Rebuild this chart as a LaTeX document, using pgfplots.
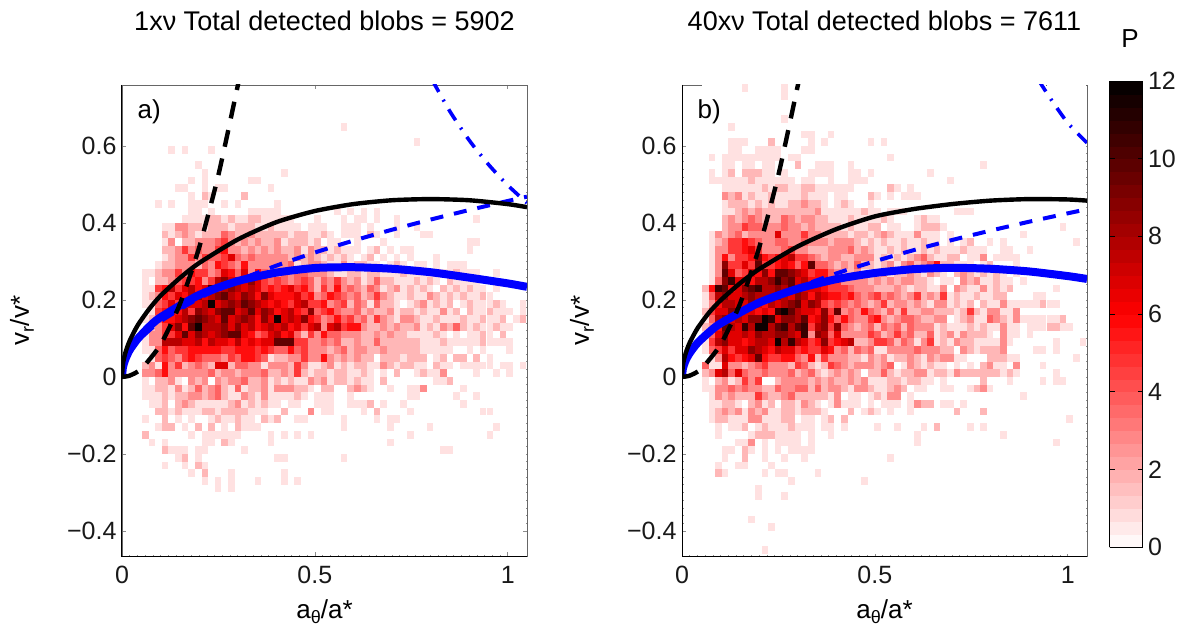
\documentclass[border=0pt]{standalone}
\usepackage{fontspec}
\setmainfont{Liberation Sans}
\usepackage{pgfplots}
\usepackage{pgfplotstable}
\pgfplotsset{compat=1.18}
\pgfdeclareplotmark{cell}{\pgfpathrectangle{\pgfqpoint{-3.3pt}{-3.84pt}}{\pgfqpoint{6.6pt}{7.68pt}}\pgfusepathqfill}
\definecolor{lblue}{rgb}{0,0,1}
\newcommand{\lbl}{\fontsize{25}{30}\selectfont}
\newcommand{\lab}{\fontsize{26}{30}\selectfont}
\newcommand{\ttl}{\fontsize{27}{32}\selectfont}
\newcommand{\sub}[1]{\raisebox{-0.35ex}{\fontsize{18}{18}\selectfont #1}}

% columns: k=0..57 (cell centre x = 0.0516+0.01718*(k+0.5)); rows top to bottom
\pgfplotstableread[header=false]{
0 0 0 0 0 0 0 0 0 0  0 0 0 0 0 0 0 0 0 0  0 0 0 0 0 0 0 0 0 0  1 0 0 0 0 0 0 0 0 0  0 0 0 0 0 0 0 0 0 0  0 0 0 0 0 0 0 0
0 0 0 0 0 0 0 0 0 0  0 0 0 0 0 0 0 0 0 0  0 0 0 0 0 0 0 0 0 0  0 0 0 0 0 0 0 0 0 0  0 0 0 0 0 0 0 0 0 0  0 0 0 0 0 0 0 0
0 0 0 0 0 0 0 0 0 0  0 0 0 0 0 0 0 0 0 0  0 0 0 0 0 0 0 0 0 0  0 0 0 0 0 0 0 0 0 0  0 1 0 0 0 0 0 0 0 0  0 0 0 0 0 0 0 0
0 0 0 0 1 0 1 0 0 0  1 0 0 0 0 0 0 0 0 0  0 0 0 0 0 0 0 0 0 0  0 0 0 0 0 0 0 0 0 0  0 0 0 0 0 0 0 0 0 0  0 0 0 0 0 0 0 0
0 0 0 0 0 0 0 0 0 0  0 0 0 0 0 0 0 0 0 0  0 0 0 0 0 0 0 0 0 0  0 0 0 0 0 0 0 0 0 0  0 0 0 0 0 0 0 0 0 0  0 0 0 0 0 0 0 0
0 0 0 0 0 0 0 0 1 0  0 0 0 0 0 0 0 0 0 0  0 0 0 0 0 0 0 0 0 0  0 0 0 0 0 0 0 0 0 0  0 0 0 0 0 0 0 0 0 0  0 0 0 0 0 0 0 0
0 0 0 0 0 0 0 0 0 1  0 0 0 0 0 0 0 0 0 0  0 1 0 0 0 0 0 0 0 0  0 0 0 0 0 0 0 0 0 0  0 0 0 0 0 0 0 0 0 0  0 0 0 0 0 0 0 0
0 0 0 0 0 0 0 1 0 1  0 0 0 0 0 0 1 1 0 0  0 0 0 0 0 0 0 0 0 0  0 0 0 0 0 0 0 0 0 0  0 0 0 0 0 0 0 0 0 0  0 0 0 0 0 0 0 0
0 0 0 0 0 1 1 0 0 1  0 1 1 0 0 0 0 0 0 1  0 0 0 0 0 0 0 0 0 0  0 0 0 0 0 0 0 0 0 0  0 0 0 0 0 0 0 0 0 0  0 0 0 0 0 0 0 0
0 0 0 0 0 0 0 1 0 2  1 0 0 0 0 2 0 0 0 0  0 0 0 0 0 0 0 0 0 0  0 0 0 0 0 0 0 0 0 0  0 0 0 0 0 0 0 0 0 0  0 0 0 0 0 0 0 0
0 0 1 0 1 0 0 1 1 1  0 0 1 0 1 0 0 0 0 0  1 0 0 0 0 0 0 0 0 0  0 0 0 0 0 0 0 0 0 0  0 0 0 0 0 0 0 0 0 0  0 0 0 0 0 0 0 0
0 0 0 0 0 0 0 1 1 0  1 0 0 0 0 0 1 1 1 1  1 0 0 0 0 0 0 0 0 1  0 1 0 1 0 1 0 0 0 0  0 0 0 0 0 0 0 0 0 0  0 0 0 0 0 0 0 0
0 0 0 0 0 0 1 1 1 1  2 2 1 2 1 1 2 2 1 1  1 1 1 0 0 0 1 0 0 0  1 0 1 1 0 1 0 0 1 0  0 0 0 0 0 0 0 0 0 0  1 0 0 0 0 0 0 0
0 0 0 1 1 3 3 2 2 1  2 2 2 1 2 2 2 1 1 2  1 1 1 1 0 1 1 1 0 0  1 1 1 0 1 0 0 0 1 0  0 1 0 0 0 0 0 0 0 0  0 0 0 0 0 0 0 0
0 0 0 2 1 2 3 2 1 2  2 2 4 3 2 2 3 2 2 2  2 2 1 2 2 1 1 2 1 0  1 1 1 0 2 1 0 0 1 0  0 0 1 1 0 0 0 0 0 0  0 0 0 0 0 0 0 0
0 0 0 1 3 0 2 2 3 3  3 4 5 3 2 3 2 3 2 2  3 1 2 2 2 1 2 0 1 1  0 0 1 0 0 0 1 0 0 0  0 0 0 0 0 0 0 0 0 1  1 0 0 0 0 0 0 0
0 0 0 2 2 3 5 3 4 3  3 5 6 3 3 2 3 2 3 2  3 2 2 3 1 3 2 2 1 2  1 1 1 0 1 2 0 1 0 1  1 0 0 0 0 0 0 0 0 1  0 0 0 0 0 0 0 0
0 0 0 1 2 3 3 5 3 5  4 4 5 7 4 3 4 3 3 3  3 3 2 3 2 3 2 1 2 1  2 1 0 1 2 0 1 0 1 0  1 0 0 0 1 0 0 0 0 0  0 0 0 0 0 0 0 0
0 0 1 2 2 3 3 3 2 4  3 6 5 4 3 6 3 3 3 3  3 3 4 1 2 3 3 2 1 1  3 1 2 2 1 1 0 1 2 1  0 1 1 0 1 0 1 1 1 0  0 0 0 0 0 0 0 0
1 1 2 3 3 5 3 6 5 5  3 4 7 6 4 7 3 6 4 3  3 4 3 4 4 3 3 3 2 1  1 2 2 1 2 2 1 1 1 2  1 1 1 1 2 1 1 2 1 1  1 0 0 1 0 0 0 0
1 0 2 2 3 4 5 5 6 3  5 8 9 7 8 7 9 7 5 4  5 4 3 4 5 4 2 4 3 5  3 2 3 1 2 4 2 2 1 1  1 2 1 2 1 0 2 1 1 1  1 0 0 0 0 0 0 0
1 1 5 6 8 5 7 8 6 7  11 7 8 9 8 7 8 7 5 6  5 6 7 5 6 4 2 5 3 6  3 4 3 2 4 3 1 2 3 1  2 1 2 1 0 2 1 2 1 2  1 1 0 1 0 0 0 0
1 2 3 6 5 7 6 8 9 7  8 9 10 8 7 9 8 6 9 7  6 6 6 7 5 6 3 4 6 5  4 3 4 2 3 5 3 2 1 1  2 1 1 3 2 1 2 1 2 1  1 2 1 0 0 0 0 0
1 1 4 5 7 5 6 7 7 8  12 7 8 9 8 10 9 8 7 6  7 6 5 7 8 5 5 6 3 4  5 2 4 3 1 4 2 2 1 0  1 2 3 1 2 1 2 0 1 2  1 1 1 2 1 0 0 1
0 1 5 6 7 6 8 5 9 8  7 9 10 10 7 8 10 7 9 8  6 7 8 6 5 9 4 5 6 4  3 3 4 2 3 2 2 3 1 2  2 1 2 1 1 3 1 2 0 2  1 1 2 1 1 1 0 1
1 2 4 6 6 7 8 9 10 9  8 7 10 7 8 9 8 6 9 7  12 7 8 7 9 6 5 3 4 6  4 5 3 4 2 5 3 2 1 3  3 2 1 1 2 1 1 1 2 1  1 2 1 1 2 0 1 2
0 2 3 5 7 9 6 10 12 8  8 8 9 7 9 7 8 6 7 8  7 8 6 7 5 7 8 3 7 8  5 6 6 3 2 2 3 2 3 2  2 3 1 2 1 3 2 4 2 1  2 1 1 2 1 1 0 0
1 3 3 5 5 7 10 7 9 8  7 8 9 10 10 7 6 4 5 7  8 6 7 4 2 5 3 6 4 4  3 3 3 2 2 3 2 3 2 2  1 1 1 1 2 1 0 1 0 1  1 2 1 0 2 0 0 0
1 3 3 8 8 8 7 7 8 6  8 7 7 6 8 6 7 6 7 7  10 10 10 5 5 3 3 4 3 4  2 2 3 2 2 4 2 2 2 2  2 2 1 1 1 2 1 1 1 1  1 2 1 1 1 1 0 0
1 1 4 6 4 5 5 6 6 6  6 6 5 5 6 6 6 5 6 5  4 4 6 4 5 3 3 3 2 3  4 2 3 3 2 2 3 2 2 2  2 2 1 1 1 1 1 0 0 1  0 1 0 0 0 1 0 0
0 1 4 5 4 3 5 6 5 4  4 4 3 5 4 6 6 5 4 1  2 2 3 3 5 3 3 6 3 2  3 2 3 2 2 0 2 2 2 1  2 2 2 0 1 2 0 2 2 0  2 0 1 0 0 0 0 0
2 3 1 6 3 5 2 3 4 3  2 7 7 2 4 4 3 3 1 3  3 3 2 5 3 1 1 2 3 1  2 1 2 2 1 1 3 2 1 2  2 1 1 0 2 1 1 0 1 1  1 1 1 0 1 1 0 1
3 3 4 6 3 3 3 3 3 3  4 2 3 3 2 3 3 3 4 2  2 3 2 5 2 1 2 2 1 2  2 1 1 2 1 0 1 0 2 0  0 1 2 1 1 3 0 0 0 0  1 0 0 1 0 1 0 0
1 0 2 2 3 1 0 3 2 3  0 3 2 3 3 4 2 2 3 1  2 1 2 1 1 3 2 3 1 2  2 1 2 1 1 0 2 0 0 0  0 0 0 0 1 1 2 0 0 0  0 0 0 0 0 0 0 0
1 1 2 2 1 3 1 2 4 2  3 4 2 1 4 1 2 2 3 1  3 3 3 2 2 1 0 2 2 0  0 2 3 2 1 0 0 1 0 0  1 1 3 0 0 0 0 0 1 0  0 0 0 0 0 0 0 0
1 1 1 2 1 2 2 3 3 2  3 4 2 1 1 3 2 1 3 1  1 1 1 2 1 0 1 1 1 0  0 1 0 0 0 0 0 0 0 0  1 1 0 0 0 0 0 1 0 0  1 0 0 0 0 0 0 0
0 1 1 2 0 2 3 2 1 1  1 1 1 2 3 1 2 1 2 1  1 0 1 1 0 0 1 1 1 0  0 1 1 1 2 0 1 0 0 1  0 0 0 0 0 0 0 0 1 0  0 0 0 0 0 0 0 0
0 0 2 2 1 2 1 1 1 2  2 1 2 2 2 2 1 1 1 0  0 2 0 0 0 3 0 1 1 0  0 0 0 1 0 2 0 0 0 0  1 0 0 0 0 0 0 0 0 0  0 1 1 0 0 0 0 0
1 0 0 2 0 1 0 1 0 0  1 2 1 1 2 1 1 0 2 1  2 0 0 1 1 0 0 0 0 0  1 0 0 0 0 1 0 1 1 0  0 0 0 0 0 0 0 0 0 0  0 0 0 0 0 0 0 0
0 0 1 2 2 0 1 0 2 0  2 0 1 0 2 1 1 1 0 0  0 0 0 0 0 0 0 0 0 0  1 0 0 0 0 0 0 1 0 0  0 0 0 1 0 0 0 0 0 0  0 0 0 1 0 0 0 0
2 0 0 0 0 0 0 1 0 1  1 1 1 1 1 0 0 0 0 1  0 1 0 1 0 1 0 0 0 0  0 0 0 0 0 0 0 0 0 0  1 0 0 0 0 0 0 0 0 0  0 0 1 0 0 0 0 0
0 1 0 1 0 0 0 0 0 1  1 0 2 1 0 0 0 0 0 1  0 0 0 0 0 0 0 0 0 0  0 0 0 0 0 0 0 1 0 0  0 0 0 0 0 0 0 0 0 0  0 0 0 0 0 0 0 0
0 0 0 2 1 1 1 0 1 1  0 0 0 0 0 1 0 0 0 0  0 0 0 0 0 0 0 0 0 0  0 0 0 0 0 0 0 0 0 0  0 0 0 0 0 1 1 0 0 0  0 0 0 0 0 0 0 0
0 0 0 0 0 1 2 0 1 0  0 0 0 0 0 0 0 0 0 0  1 1 0 0 0 0 0 0 0 0  1 0 0 0 0 0 0 0 0 0  0 0 0 0 0 0 0 0 0 0  0 0 0 0 0 0 0 0
0 0 0 1 0 0 1 0 2 1  0 0 0 0 0 0 0 0 0 0  0 0 0 0 0 0 0 0 0 0  0 0 0 0 0 0 0 0 0 0  0 0 0 0 0 0 0 0 0 0  0 0 0 0 0 0 0 0
0 0 0 0 0 0 0 1 0 2  0 0 0 1 0 0 0 0 0 0  0 1 0 0 0 0 0 0 0 0  0 0 0 0 0 0 0 0 0 0  0 0 0 0 0 0 0 0 0 0  0 0 0 0 0 0 0 0
0 0 0 0 0 0 0 0 0 1  0 1 0 1 0 0 0 1 0 0  0 1 0 1 0 0 0 0 0 0  0 0 0 0 0 0 0 0 0 0  0 0 0 0 0 0 0 0 0 0  0 0 0 0 0 0 0 0
0 0 0 0 0 0 0 0 0 0  0 1 0 1 0 0 0 0 0 0  0 0 0 0 0 0 0 0 0 0  0 0 0 0 0 0 0 0 0 0  0 0 0 0 0 0 0 0 0 0  0 0 0 0 0 0 0 0
}\tblA

\pgfplotstableread[header=false]{
0 0 0 0 0 0 1 0 0 0  0 0 1 0 0 0 0 0 0 0  0 0 0 0 0 0 0 0 0 0  0 0 0 0 0 0 0 0 0 0  0 0 0 0 0 0 0 0 0 0  0 0 0 0 0 0 0 0
0 0 0 0 0 0 0 0 0 0  0 0 1 0 0 0 0 0 0 0  0 0 0 0 0 0 0 0 0 0  0 0 0 0 0 0 0 0 0 0  0 0 0 0 0 0 0 0 0 0  0 0 0 0 0 0 0 0
0 0 0 0 0 0 0 0 0 0  0 0 0 0 0 0 0 0 0 0  0 0 0 0 0 0 0 0 0 0  0 0 0 0 0 0 0 0 0 0  0 0 0 0 0 0 0 0 0 0  0 0 0 0 0 0 0 0
0 0 0 0 0 0 0 0 0 0  0 0 0 0 0 0 0 0 0 0  0 0 0 0 0 0 0 0 0 0  0 0 0 0 0 0 0 0 0 0  0 0 0 0 0 0 0 0 0 0  0 0 0 0 0 0 0 0
0 0 0 0 0 0 0 0 0 0  0 0 1 0 0 0 0 0 0 0  0 0 0 0 0 0 0 0 0 0  0 0 0 0 0 0 0 0 0 0  0 0 0 0 0 0 0 0 0 0  0 0 0 0 0 0 0 0
0 0 0 0 1 0 0 0 0 0  0 0 0 0 0 0 0 0 0 0  0 0 0 0 0 0 0 0 0 0  0 0 0 0 0 0 0 0 0 0  0 0 0 0 0 0 0 0 0 0  0 0 0 0 0 0 0 0
0 0 0 0 0 0 0 0 0 0  0 0 0 0 0 1 1 0 0 1  0 0 0 0 0 0 0 0 0 0  0 0 0 0 0 0 0 0 0 0  0 0 0 0 0 0 0 0 0 0  0 0 0 0 0 0 0 0
0 0 0 0 1 1 1 0 0 0  2 0 0 0 0 0 1 0 1 0  0 0 0 0 0 1 0 1 0 0  0 0 0 0 0 0 0 0 0 0  0 0 0 0 0 0 0 0 0 0  0 0 0 0 0 0 0 0
0 0 0 0 1 1 0 0 1 1  1 1 0 0 0 1 1 0 0 0  0 0 0 0 0 0 0 0 0 0  0 0 0 0 0 0 0 0 0 0  0 0 0 0 0 0 0 0 0 0  0 0 0 0 0 0 0 0
0 1 0 1 1 1 1 1 1 1  1 1 0 1 1 0 0 0 0 0  0 0 0 0 0 0 0 0 1 0  0 0 0 0 0 0 0 0 0 0  0 0 0 0 0 0 0 0 0 0  0 0 0 0 0 0 0 0
0 0 0 1 1 0 1 1 0 1  1 0 0 0 2 0 0 1 1 1  0 0 1 0 0 0 0 0 0 0  0 0 0 0 0 0 0 0 0 0  0 0 1 0 0 0 0 0 0 0  0 0 0 0 0 0 0 0
0 1 0 1 2 0 2 2 2 1  1 0 1 0 0 0 1 1 1 1  0 0 1 1 0 1 0 0 0 0  0 0 0 0 1 0 0 0 0 0  0 0 0 0 0 0 0 0 0 0  0 0 0 0 0 0 0 0
0 1 1 1 1 1 1 2 1 1  1 1 1 1 0 1 1 0 0 1  0 0 1 1 1 0 0 0 0 0  0 0 0 0 0 0 0 1 0 0  0 0 0 0 0 0 0 0 0 0  0 0 0 0 0 0 0 0
0 0 0 1 1 1 1 1 1 2  1 2 2 1 1 2 2 1 1 1  1 1 1 0 0 0 0 0 2 1  0 1 0 0 0 0 0 0 0 0  0 0 0 0 0 0 0 0 0 0  0 0 0 0 0 0 0 0
0 0 0 3 2 3 1 2 1 1  2 1 1 1 1 2 1 1 1 0  1 1 0 0 0 2 1 0 1 0  1 1 1 0 0 0 0 0 0 0  0 0 0 0 0 0 0 0 0 0  0 0 0 0 0 0 0 0
0 0 0 1 2 2 2 1 2 1  2 1 1 2 2 3 2 2 1 0  1 2 1 0 0 1 0 0 0 0  0 0 0 0 0 0 0 0 0 0  0 0 0 0 0 0 0 0 0 0  0 0 0 0 0 0 0 0
0 0 0 1 1 2 3 2 3 2  2 2 2 2 2 2 2 3 1 1  1 1 1 1 2 1 1 0 1 1  1 0 0 0 0 0 0 0 1 1  1 0 0 0 0 0 0 0 0 0  0 0 0 0 0 0 0 0
0 0 0 2 3 2 3 4 3 2  2 2 4 3 2 3 3 2 2 1  1 1 2 1 1 1 1 2 1 0  0 0 1 2 1 1 0 0 0 0  0 0 0 0 0 0 0 0 0 0  0 0 0 0 0 0 0 0
0 0 0 2 3 3 5 4 4 3  3 3 4 3 3 2 3 2 2 2  2 1 2 1 1 2 2 0 1 1  0 0 1 2 2 2 1 0 0 0  0 0 0 0 0 0 0 0 0 0  0 0 0 0 1 0 0 0
0 1 3 2 3 4 2 3 3 3  3 7 3 3 3 5 3 3 2 2  2 2 1 2 2 1 2 3 2 1  1 1 3 1 1 1 0 1 0 0  0 0 0 0 0 0 0 0 1 0  0 0 0 0 0 0 0 0
0 1 2 3 5 5 6 5 4 3  3 4 4 3 3 4 3 3 3 2  3 3 3 2 1 2 1 2 1 1  2 1 1 2 1 1 0 1 0 1  2 0 0 1 0 1 0 0 0 0  0 0 0 0 0 0 1 0
0 1 3 3 5 5 6 7 5 3  3 3 4 5 3 3 2 2 2 3  3 3 4 2 3 2 1 1 2 1  2 1 1 2 1 2 1 1 1 2  1 1 1 0 0 1 1 0 0 1  0 0 0 0 0 0 0 0
0 1 3 6 3 5 5 6 9 6  5 6 7 8 5 5 4 3 2 3  3 2 2 3 3 3 1 2 1 2  1 2 3 4 2 1 1 2 2 0  1 1 3 0 1 1 1 1 0 0  0 0 0 0 0 0 0 0
0 1 3 9 5 5 7 5 10 5  5 6 7 6 4 6 10 4 4 3  2 3 2 4 2 2 1 2 3 1  3 4 2 3 4 6 2 2 1 1  1 0 1 2 0 0 0 1 0 0  0 0 0 0 0 0 0 0
0 1 3 10 7 4 5 7 6 9  6 10 10 9 8 7 5 6 6 4  3 2 2 3 1 1 2 3 1 2  2 3 2 1 3 2 1 0 2 3  2 1 2 1 2 1 0 1 0 0  0 0 0 0 0 0 0 0
0 1 4 9 11 7 7 6 8 8  9 11 9 10 7 8 6 6 6 5  5 3 3 3 3 2 3 2 3 2  3 3 2 2 1 0 1 1 0 3  2 3 1 1 2 1 1 0 1 0  0 0 0 0 0 0 0 0
2 6 11 10 6 7 9 10 11 8  8 9 8 10 7 7 7 7 6 5  5 5 4 3 3 3 2 2 2 3  2 1 2 2 1 1 3 0 3 2  1 1 3 1 2 1 2 0 0 0  0 0 0 1 0 0 0 0
1 4 8 9 7 7 8 9 8 8  8 9 8 7 9 8 6 8 7 6  6 5 6 4 3 4 5 3 4 3  2 3 5 2 3 2 5 1 2 1  1 2 1 1 2 2 0 0 0 0  1 1 0 0 0 0 0 0
1 3 6 8 8 7 7 9 7 6  8 7 8 9 10 7 9 8 5 4  5 4 3 4 3 2 3 5 2 3  3 2 3 2 1 3 3 1 2 1  2 0 2 1 1 3 1 1 1 1  1 2 1 1 0 0 0 0
2 5 7 7 9 10 7 7 6 7  6 11 12 10 8 7 7 6 9 5  10 3 4 3 6 4 3 2 4 2  5 2 2 3 3 2 2 2 1 2  5 2 1 3 3 1 1 3 0 0  0 0 0 0 0 0 0 0
1 4 8 9 7 8 7 9 9 12  11 7 9 9 8 10 6 7 9 6  4 6 4 3 3 5 6 3 2 3  4 4 3 2 2 3 3 0 1 2  3 1 1 4 3 2 1 3 1 1  1 1 1 1 2 0 0 0
2 3 6 10 8 7 11 8 12 12  8 10 11 8 10 11 5 8 9 5  9 4 3 2 3 4 2 4 3 4  2 4 3 3 3 1 2 1 1 1  2 1 2 1 1 3 1 1 0 1  1 1 2 2 1 1 0 0
1 4 7 9 7 7 8 7 9 8  8 9 9 8 7 11 3 9 8 4  7 3 3 3 3 5 4 2 3 5  3 4 2 2 4 1 2 3 1 3  2 2 2 1 0 3 1 1 0 1  0 0 0 0 0 0 0 0
1 5 8 9 7 7 6 7 8 8  7 12 8 11 8 7 5 6 9 5  6 7 8 2 2 3 5 5 4 2  4 3 1 3 5 1 2 1 3 2  2 1 1 1 1 3 1 0 0 0  0 0 0 1 0 0 0 1
1 4 5 7 5 7 7 9 8 7  6 8 7 7 5 6 5 5 7 6  3 4 2 4 3 4 1 1 3 3  3 3 4 3 3 3 2 2 0 3  2 1 2 2 2 3 0 0 0 0  1 1 0 1 0 0 0 0
0 1 3 8 6 5 6 7 10 6  5 5 6 6 4 3 6 2 5 3  3 3 2 2 1 3 2 3 1 2  2 3 2 1 3 2 3 3 1 1  0 0 0 2 2 2 1 1 0 0  0 0 0 0 0 0 1 0
4 1 1 7 3 3 2 3 4 5  3 3 3 2 5 4 2 1 2 5  4 3 2 3 3 3 2 3 4 0  1 3 2 1 2 1 1 0 1 0  1 0 2 3 1 1 0 3 0 0  0 1 0 0 0 0 0 0
2 3 7 8 4 7 4 3 3 4  3 3 3 4 2 3 4 2 1 2  3 2 3 2 0 2 2 4 2 1  2 2 3 3 1 2 2 1 3 2  2 2 2 2 2 1 2 1 0 0  0 0 0 1 0 0 0 0
1 0 2 3 1 2 5 3 5 0  0 2 3 3 3 3 2 3 2 3  2 2 3 2 3 1 1 1 2 2  1 2 2 1 1 0 1 0 0 0  0 0 2 0 0 0 1 0 0 0  0 1 0 1 1 0 0 0
1 1 3 3 4 3 4 3 3 2  2 4 3 3 4 4 2 4 2 3  3 2 1 3 3 2 1 1 2 3  2 0 1 1 0 0 1 1 0 0  1 2 3 1 0 0 0 0 0 0  0 0 0 0 0 0 0 0
0 1 3 2 3 2 2 2 5 3  2 2 3 4 2 2 2 2 2 1  3 0 1 1 0 1 2 1 3 3  0 1 0 0 0 0 0 0 0 0  0 0 0 0 0 0 0 0 1 0  0 0 0 0 0 0 0 0
0 1 1 2 2 1 0 2 3 1  2 0 2 2 1 3 2 1 0 1  3 1 1 1 0 1 0 1 1 1  0 1 3 2 2 0 1 1 0 1  0 0 0 0 0 0 0 0 0 0  0 0 0 0 0 0 0 0
0 1 2 3 2 3 1 3 2 3  1 1 2 2 1 2 2 2 1 0  0 0 2 0 1 2 1 0 1 0  0 1 0 0 0 0 0 0 2 0  0 0 2 0 0 0 0 0 0 0  0 0 0 0 0 0 0 0
0 1 2 2 1 1 1 3 3 1  1 1 2 2 0 1 1 0 1 2  0 2 0 0 0 0 0 0 0 0  0 0 0 0 0 0 0 0 0 0  0 0 0 0 0 0 0 0 0 0  0 0 0 0 0 1 0 0
0 0 1 0 1 1 2 0 1 2  1 1 1 2 1 1 1 0 1 1  0 1 0 0 0 0 1 0 0 1  0 0 0 1 0 2 0 0 0 0  1 0 1 0 0 0 0 0 0 0  0 0 0 0 0 0 0 0
0 0 1 0 0 0 0 1 2 2  2 1 1 1 1 0 1 0 0 1  0 0 0 0 0 0 0 0 0 0  0 0 1 0 0 0 0 0 0 0  0 0 0 0 0 1 0 0 0 0  0 0 0 0 0 0 0 0
0 0 0 0 0 1 1 3 0 1  0 1 1 1 1 0 1 0 0 0  0 0 0 0 0 0 0 0 0 0  0 0 1 0 0 0 0 0 0 0  0 0 0 0 0 0 0 0 0 0  0 0 0 1 0 0 0 0
0 0 0 1 1 0 2 1 0 1  0 1 0 1 1 1 1 0 0 0  0 0 0 0 0 0 0 0 0 0  0 0 0 0 0 0 0 0 0 0  0 0 0 0 0 0 0 0 0 0  0 0 0 0 0 0 0 0
0 0 0 1 0 0 2 0 0 1  0 0 1 0 0 1 0 0 0 0  0 0 0 0 0 0 0 0 1 0  0 0 0 0 0 0 0 0 0 0  0 0 0 0 0 0 0 0 0 0  0 0 0 0 0 0 0 0
0 0 1 0 0 1 1 0 0 0  1 0 0 0 0 0 0 0 0 0  0 0 0 0 0 0 0 0 0 0  0 0 0 0 0 0 0 0 0 0  0 0 0 0 0 0 0 0 0 0  0 0 0 0 0 0 0 0
0 0 2 1 0 0 0 0 0 1  0 1 1 0 0 0 0 1 0 0  0 0 0 0 0 0 0 0 0 0  0 0 0 0 0 0 0 0 0 0  0 0 0 0 0 0 0 0 0 0  0 0 0 0 0 0 0 0
0 0 0 0 0 0 0 0 0 0  0 0 0 1 0 0 0 0 0 0  0 0 0 0 1 0 0 0 0 0  0 0 0 0 0 0 0 0 0 0  0 0 0 0 0 0 0 0 0 0  0 0 0 0 0 0 0 0
0 0 0 0 0 0 0 0 1 0  0 0 0 0 0 0 0 0 0 0  0 0 0 0 0 0 0 0 0 0  0 0 0 0 0 0 0 0 0 0  0 0 0 0 0 0 0 0 0 0  0 0 0 0 0 0 0 0
0 0 0 0 0 0 0 0 1 0  0 0 1 0 0 0 0 0 0 0  0 0 0 0 0 0 0 0 0 0  0 0 0 0 0 0 0 0 0 0  0 0 0 0 0 0 0 0 0 0  0 0 0 0 0 0 0 0
0 0 0 0 0 0 0 0 0 0  0 0 0 0 0 0 0 0 0 0  0 0 0 0 0 0 0 0 0 0  0 0 0 0 0 0 0 0 0 0  0 0 0 0 0 0 0 0 0 0  0 0 0 0 0 0 0 0
0 0 0 0 0 0 0 0 0 0  0 0 0 0 0 0 0 0 0 0  0 0 0 0 0 0 0 0 0 0  0 0 0 0 0 0 0 0 0 0  0 0 0 0 0 0 0 0 0 0  0 0 0 0 0 0 0 0
0 0 0 0 0 0 0 1 0 0  0 0 0 0 0 0 0 0 0 0  0 0 0 0 0 0 0 0 0 0  0 0 0 0 0 0 0 0 0 0  0 0 0 0 0 0 0 0 0 0  0 0 0 0 0 0 0 0
0 0 0 0 0 0 0 0 0 0  1 0 0 0 0 0 0 0 0 0  0 0 0 0 0 0 0 0 0 0  0 0 0 0 0 0 0 0 0 0  0 0 0 0 0 0 0 0 0 0  0 0 0 0 0 0 0 0
0 0 0 0 0 0 0 0 0 0  0 0 0 0 0 0 0 0 0 0  0 0 0 0 0 0 0 0 0 0  0 0 0 0 0 0 0 0 0 0  0 0 0 0 0 0 0 0 0 0  0 0 0 0 0 0 0 0
0 0 0 0 0 0 0 0 0 0  0 0 0 0 0 0 0 0 0 0  0 0 0 0 0 0 0 0 0 0  0 0 0 0 0 0 0 0 0 0  0 0 0 0 0 0 0 0 0 0  0 0 0 0 0 0 0 0
0 0 0 0 0 0 0 0 0 1  0 0 0 0 0 0 0 0 0 0  0 0 0 0 0 0 0 0 0 0  0 0 0 0 0 0 0 0 0 0  0 0 0 0 0 0 0 0 0 0  0 0 0 0 0 0 0 0
}\tblB

\pgfplotsset{
  blobaxis/.style={
    scale only axis, width=405pt, height=471pt,
    anchor=south west,
    clip mode=individual,
    xmin=0, xmax=1.05, ymin=-0.4652, ymax=0.7584,
    xtick={0,0.5,1}, xticklabels={0,0.5,1},
    ytick={-0.4,-0.2,0,0.2,0.4,0.6}, yticklabels={−0.4,−0.2,0,0.2,0.4,0.6},
    minor x tick num=24, minor y tick num=9,
    tick align=inside, tick style={black!45,line width=0.5pt},
    major tick length=4pt, minor tick length=1.5pt,
    tick label style={font=\lbl, black!90},
    xticklabel style={yshift=-7pt},
    yticklabel style={xshift=-2pt},
    axis line style={black!60,line width=0.8pt},
    title style={at={(axis description cs:0.5,1.1235)},anchor=center,font=\ttl},
    xlabel style={at={(axis description cs:0.5,-0.119)},anchor=center,font=\lab},
    ylabel style={at={(axis description cs:-0.247,0.5)},anchor=center,font=\lab},
    xlabel={a\sub{θ}/a*}, ylabel={v\sub{r}/v*},
    colormap={wrk}{color(0)=(white) color(6)=(red) color(12)=(black)},
    point meta min=0, point meta max=12,
    clip=true,
    after end axis/.code={\draw[black,line width=1pt] (rel axis cs:0,1) -- (rel axis cs:0,0) -- (rel axis cs:1,0);},
  },
  heat/.style={forget plot, scatter, only marks, mark=cell, point meta=explicit, scatter/use mapped color={fill=mapped color,draw=none}},
  bthick/.style={forget plot, lblue, line width=8pt, smooth, tension=0.4, no marks},
  ksolid/.style={forget plot, black, line width=4.4pt, smooth, tension=0.4, no marks},
  kdash/.style={forget plot, black, line width=4.4pt, dash pattern=on 17pt off 12pt, smooth, tension=0.4, no marks},
  bdash/.style={forget plot, lblue, line width=4pt, dash pattern=on 13pt off 11pt, smooth, tension=0.4, no marks},
  bdot/.style={forget plot, lblue, line width=3.6pt, dash pattern=on 13pt off 9pt on 2pt off 9pt, smooth, tension=0.4, no marks},
}

\begin{document}
\begin{tikzpicture}
\path[use as bounding box] (0pt,0pt) rectangle (1188pt,632pt);

\begin{axis}[blobaxis, at={(122pt,76pt)}, title={1xν Total detected blobs = 5902}]
\pgfplotsinvokeforeach{0,...,57}{
  \addplot[heat] table[x expr={0.0516+0.01718*(#1+0.5)}, y expr={0.65-0.02*\coordindex}, meta expr={\thisrowno{#1}>0 ? \thisrowno{#1}-0.3 : 0}] {\tblA};
}
\addplot[bthick] coordinates {(0,0)(0.002,0.022)(0.005,0.035)(0.01,0.049)(0.02,0.07)(0.04,0.098)(0.07,0.13)(0.1,0.155)(0.2,0.213)(0.3,0.249)(0.4,0.271)(0.5,0.283)(0.6,0.285)(0.7,0.281)(0.8,0.272)(0.9,0.258)(1,0.243)(1.05,0.234)};
\addplot[bdash] coordinates {(0,0)(0.005,0.0323)(0.02,0.0646)(0.05,0.102)(0.1,0.1445)(0.2,0.2044)(0.3,0.2503)(0.4,0.289)(0.5,0.3232)(0.6,0.354)(0.7,0.3824)(0.8,0.4088)(0.9,0.4335)(1,0.457)(1.05,0.4683)};
\addplot[bdot] coordinates {(0.805,0.77)(0.85,0.69)(0.9,0.615)(0.95,0.552)(1,0.498)(1.05,0.452)};
\addplot[kdash] coordinates {(0,0)(0.02,0.0034)(0.05,0.021)(0.1,0.084)(0.15,0.189)(0.2,0.336)(0.25,0.525)(0.3,0.756)(0.302,0.766)};
\addplot[ksolid] coordinates {(0,0)(0.002,0.03)(0.005,0.047)(0.01,0.067)(0.02,0.094)(0.04,0.133)(0.07,0.176)(0.1,0.211)(0.15,0.257)(0.2,0.296)(0.3,0.357)(0.4,0.402)(0.5,0.431)(0.6,0.449)(0.7,0.459)(0.8,0.462)(0.9,0.459)(1,0.449)(1.05,0.441)};
\node[font=\lab,anchor=center] at (rel axis cs:0.067,0.943) {a)};
\end{axis}

\begin{axis}[blobaxis, at={(682pt,76pt)}, title={40xν Total detected blobs = 7611},
  colorbar, colorbar sampled,
  colorbar style={samples=37, at={(parent axis.south east)}, anchor=south west, xshift=14pt, yshift=9pt, width=33pt, height=466pt,
    ytick={0,2,4,6,8,10,12}, yticklabels={0,2,4,6,8,10,12}, yticklabel pos=right, minor y tick num=0,
    tick align=inside, ytick pos=both, major tick length=5pt, tick style={black,line width=0.6pt},
    yticklabel style={font=\lbl, xshift=2pt},
    axis line style={black,line width=0.8pt},
    title={P}, title style={at={(0.5,1)},anchor=center,xshift=4pt,yshift=36pt,font=\lab},
    xlabel={},ylabel={},
    after end axis/.code={},
  }]
\pgfplotsinvokeforeach{0,...,57}{
  \addplot[heat] table[x expr={0.0516+0.01718*(#1+0.5)}, y expr={0.75-0.02*\coordindex}, meta expr={\thisrowno{#1}>0 ? \thisrowno{#1}-0.3 : 0}] {\tblB};
}
\addplot[bthick] coordinates {(0,0)(0.002,0.02)(0.005,0.031)(0.01,0.044)(0.02,0.062)(0.04,0.088)(0.07,0.116)(0.1,0.139)(0.2,0.193)(0.3,0.229)(0.4,0.254)(0.5,0.27)(0.6,0.28)(0.7,0.2835)(0.8,0.281)(0.9,0.274)(1,0.262)(1.05,0.2545)};
\addplot[bdash] coordinates {(0,0)(0.005,0.03)(0.02,0.0601)(0.05,0.095)(0.1,0.1344)(0.2,0.19)(0.3,0.2328)(0.4,0.2688)(0.5,0.3005)(0.6,0.3292)(0.7,0.3556)(0.8,0.3801)(0.9,0.4032)(1,0.425)(1.05,0.4355)};
\addplot[bdot] coordinates {(0.925,0.77)(0.96,0.716)(1,0.66)(1.04,0.618)(1.05,0.608)};
\addplot[kdash] coordinates {(0,0)(0.02,0.0034)(0.05,0.021)(0.1,0.084)(0.15,0.189)(0.2,0.336)(0.25,0.525)(0.3,0.756)(0.302,0.766)};
\addplot[ksolid] coordinates {(0,0)(0.002,0.028)(0.005,0.0445)(0.01,0.063)(0.02,0.089)(0.04,0.126)(0.07,0.167)(0.1,0.199)(0.15,0.243)(0.2,0.28)(0.3,0.339)(0.4,0.384)(0.5,0.417)(0.6,0.436)(0.7,0.449)(0.8,0.458)(0.9,0.462)(1,0.461)(1.05,0.458)};
\node[font=\lab,anchor=center] at (rel axis cs:0.067,0.943) {b)};
\end{axis}
\end{tikzpicture}
\end{document}
